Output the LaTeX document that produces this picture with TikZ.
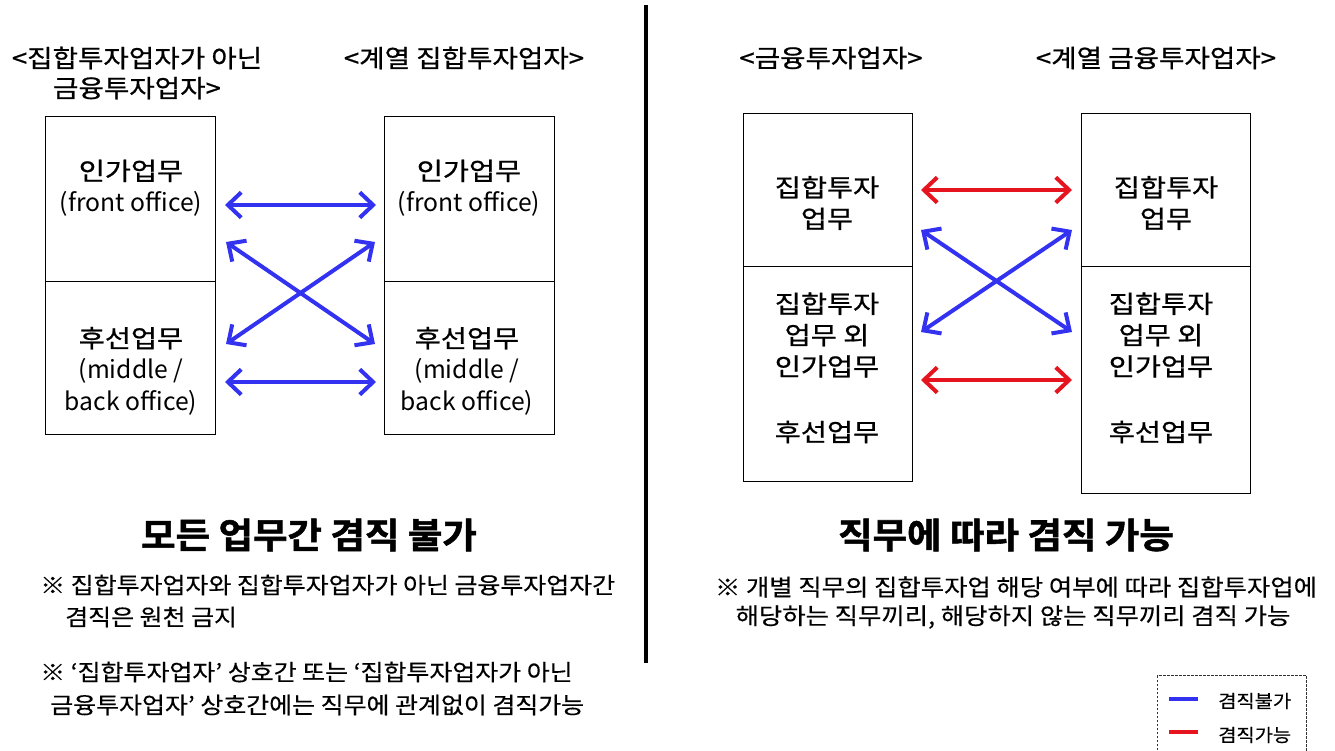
\documentclass[tikz,border=0pt]{standalone}
\usepackage{fontspec}
\setmainfont{Noto Sans CJK KR}
\newfontfamily\hdrfont{Noto Sans CJK KR}[FakeStretch=1.12, FakeBold=0.8]
\newfontfamily\hanfont{Noto Sans CJK KR}[FakeStretch=1.15, FakeBold=0.8]
\newfontfamily\notefont{Noto Sans CJK KR}[FakeStretch=1.1, FakeBold=0.4]
\newfontfamily\ttlfont{Noto Sans CJK KR Bold}[FakeStretch=1.06, FakeBold=1.5]
\usetikzlibrary{arrows.meta}
\definecolor{cblue}{RGB}{50,50,240}
\definecolor{cred}{RGB}{230,20,30}
\newcommand{\hn}[1]{{\hanfont #1}}
\begin{document}
\begin{tikzpicture}[x=0.75pt,y=-0.75pt,
  cell/.style={draw=black, line width=1pt, inner sep=0pt, anchor=north west},
  hdr/.style={font=\hdrfont\fontsize{18.5}{22.5}\selectfont, align=center, inner sep=0pt},
  celltext/.style={font=\fontsize{18.5}{23.5}\selectfont, align=center, inner sep=0pt},
  hantext/.style={font=\hanfont\fontsize{18.5}{23.5}\selectfont, align=center, inner sep=0pt},
  ttl/.style={font=\ttlfont\fontsize{26.5}{30}\selectfont, inner sep=0pt},
  note/.style={font=\notefont\fontsize{17}{24}\selectfont, inner sep=0pt, anchor=west},
  cnote/.style={font=\notefont\fontsize{17.3}{24}\selectfont, inner sep=0pt},
  conn/.style={line width=3pt, {Straight Barb[length=10pt,width=19pt]}-{Straight Barb[length=10pt,width=19pt]}},
  legtext/.style={font=\notefont\fontsize{13.5}{16}\selectfont, inner sep=0pt, anchor=west},
  legline/.style={line width=3.5pt}]
\useasboundingbox (0,0) rectangle (1335,750);

% ---------- divider ----------
\coordinate (dtop) at (646,5);
\coordinate (dbot) at (646,663);
\draw[line width=3pt] (dtop) -- (dbot);

% ---------- left panel ----------
\node[hdr] (h1) at (137,73) {<집합투자업자가 아닌\\금융투자업자>};
\node[hdr] (h2) at (464,58) {<계열 집합투자업자>};

\node[cell, minimum width=170*0.75pt, minimum height=165*0.75pt] (At) at (45,116) {};
\node[cell, minimum width=170*0.75pt, minimum height=153*0.75pt] (Ab) at (45,281) {};
\node[cell, minimum width=170*0.75pt, minimum height=165*0.75pt] (Bt) at (384,116) {};
\node[cell, minimum width=170*0.75pt, minimum height=153*0.75pt] (Bb) at (384,281) {};

\node[celltext] (Att) at (131,188) {\hn{인가업무}\\(front office)};
\node[celltext] (Abt) at (131,371) {\hn{후선업무}\\(middle /\\back office)};
\node[celltext] (Btt) at (469,188) {\hn{인가업무}\\(front office)};
\node[celltext] (Bbt) at (467,371) {\hn{후선업무}\\(middle /\\back office)};

\coordinate (l1a) at (225,205); \coordinate (l1b) at (376,205);
\coordinate (l2a) at (226,242); \coordinate (l2b) at (375,344);
\coordinate (l3a) at (226,344); \coordinate (l3b) at (375,242);
\coordinate (l4a) at (225,382); \coordinate (l4b) at (376,382);
\draw[conn, cblue] (l1a) -- (l1b);
\draw[conn, cblue] (l2a) -- (l2b);
\draw[conn, cblue] (l3a) -- (l3b);
\draw[conn, cblue] (l4a) -- (l4b);

\node[ttl] (t1) at (309,535) {모든 업무간 겸직 불가};
\node[note] (n1) at (40,585) {※ 집합투자업자와 집합투자업자가 아닌 금융투자업자간};
\node[note] (n2) at (65,617) {겸직은 원천 금지};
\node[note] (n3) at (40,672) {※ ‘집합투자업자’ 상호간 또는 ‘집합투자업자가 아닌};
\node[note] (n4) at (50,705) {금융투자업자’ 상호간에는 직무에 관계없이 겸직가능};

% ---------- right panel ----------
\node[hdr] (h3) at (831,58) {<금융투자업자>};
\node[hdr] (h4) at (1156,58) {<계열 금융투자업자>};

\node[cell, minimum width=169*0.75pt, minimum height=153*0.75pt] (Ct) at (743,113) {};
\node[cell, minimum width=169*0.75pt, minimum height=215*0.75pt] (Cb) at (743,266) {};
\node[cell, minimum width=169*0.75pt, minimum height=153*0.75pt] (Dt) at (1081,113) {};
\node[cell, minimum width=169*0.75pt, minimum height=227*0.75pt] (Db) at (1081,266) {};

\node[hantext] (Ctt) at (827,203) {집합투자\\업무};
\node[hantext] (Cbt) at (827,335) {집합투자\\업무 외\\인가업무};
\node[hantext] (Cbu) at (827,432) {후선업무};
\node[hantext] (Dtt) at (1166,203) {집합투자\\업무};
\node[hantext] (Dbt) at (1161,335) {집합투자\\업무 외\\인가업무};
\node[hantext] (Dbu) at (1161,432) {후선업무};

\coordinate (r1a) at (921,190); \coordinate (r1b) at (1072,190);
\coordinate (r2a) at (921,230); \coordinate (r2b) at (1072,332);
\coordinate (r3a) at (921,332); \coordinate (r3b) at (1072,230);
\coordinate (r4a) at (921,380); \coordinate (r4b) at (1072,380);
\draw[conn, cred] (r1a) -- (r1b);
\draw[conn, cblue] (r2a) -- (r2b);
\draw[conn, cblue] (r3a) -- (r3b);
\draw[conn, cred] (r4a) -- (r4b);

\node[ttl] (t2) at (1006,535) {직무에 따라 겸직 가능};
\node[cnote] (n5) at (1016,587) {※ 개별 직무의 집합투자업 해당 여부에 따라 집합투자업에};
\node[cnote] (n6) at (1013,617) {해당하는 직무끼리, 해당하지 않는 직무끼리 겸직 가능};

% ---------- legend ----------
\node[draw=black!80, line width=0.8pt, dash pattern=on 2pt off 1pt, inner sep=0pt, anchor=north west,
      minimum width=149*0.75pt, minimum height=90*0.75pt] (leg) at (1157,675) {};
\coordinate (lb1) at (1169,699); \coordinate (lb2) at (1198,699);
\coordinate (lr1) at (1169,732); \coordinate (lr2) at (1198,732);
\draw[legline, cblue] (lb1) -- (lb2);
\draw[legline, cred] (lr1) -- (lr2);
\node[legtext] (lt1) at (1218,701) {겸직불가};
\node[legtext] (lt2) at (1218,735) {겸직가능};
\end{tikzpicture}
\end{document}
